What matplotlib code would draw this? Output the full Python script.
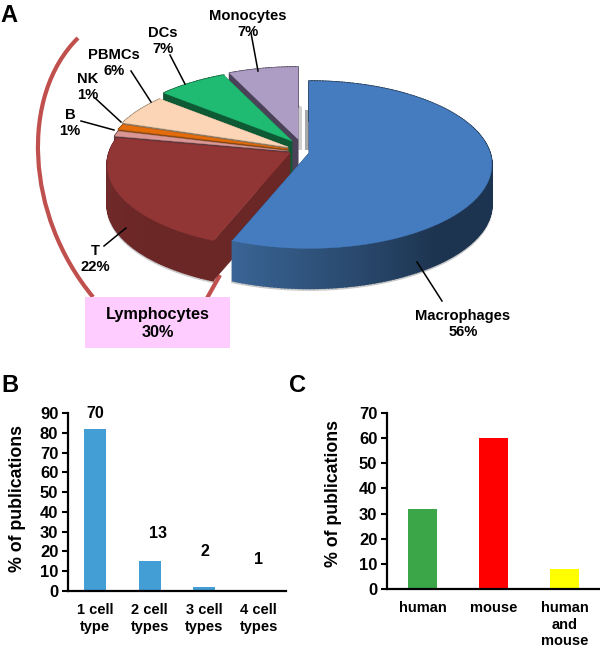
import matplotlib
matplotlib.use("Agg")
import matplotlib.pyplot as plt
from matplotlib.patches import PathPatch, Rectangle
from matplotlib.path import Path
from matplotlib.colors import to_rgb
import numpy as np

plt.rcParams['font.family'] = ['Liberation Sans', 'DejaVu Sans']
plt.rcParams['font.weight'] = 'bold'

# panel A
pie_labels = ["Macrophages", "T", "B", "NK", "PBMCs", "DCs", "Monocytes"]
pie_values = [56, 22, 1, 1, 6, 7, 7]
lymphocytes = 30

# panel B
n_types = ["1 cell\ntype", "2 cell\ntypes", "3 cell\ntypes", "4 cell\ntypes"]
n_types_pct = [82, 15, 2, 0.6]
n_types_count = ["70", "13", "2", "1"]

# panel C
species = ["human", "mouse", "human\nand\nmouse"]
species_pct = [32, 60, 8]

W, H = 600, 650
R, RY, K, DEPTH = 181, 82, 0.14, 40

top_colors = ["#457CC0", "#913535", "#D99694", "#E46C0A", "#FBD5B5", "#1FBB72", "#AD9DC4"]
side_light = ["#3A6596", "#732B2B", "#5C3A3E", "#8A4A14", "#8C7A66", "#0E5A35", "#4B4158"]
side_dark = ["#1D3450", "#6B2626", "#5C3A3E", "#8A4A14", "#8C7A66", "#0E5A35", "#4B4158"]
apex = [(309, 153), (290, 153), (288, 151), (288, 149), (288, 147), (292, 141), (298, 139)]


def proj(th, cx, cy):
    u, v = np.cos(th), np.sin(th)
    s = 1 / (1 + K * v)
    return cx + R * u * s, cy - RY * v * s


def mix(c1, c2, t):
    a, b = np.array(to_rgb(c1)), np.array(to_rgb(c2))
    return tuple(a + (b - a) * t)


def draw_slice(ax, th1, th2, cx, cy, top, light, dark):
    # th1 > th2, clockwise
    ths = np.radians(np.linspace(th1, th2, max(int(abs(th1 - th2)) + 2, 3)))
    xs, ys = proj(ths, cx, cy)
    # soft edge under the wall
    ax.plot(xs, ys + DEPTH + 1.5, color="#C8C8C8", lw=1.5, zorder=0.5)
    # radial faces
    for x, y in [(xs[0], ys[0]), (xs[-1], ys[-1])]:
        ax.fill([cx, x, x, cx], [cy, y, y + DEPTH, cy + DEPTH], color=dark, lw=0.3)
    # outer wall, gets lighter towards the end of the slice
    for i in range(len(ths) - 1):
        t = np.clip((np.degrees(ths[i]) - th2) / 60, 0, 1)
        ax.fill([xs[i], xs[i + 1], xs[i + 1], xs[i]],
                [ys[i], ys[i + 1], ys[i + 1] + DEPTH, ys[i] + DEPTH],
                color=mix(light, dark, t), lw=1.2)
    ax.fill(np.r_[cx, xs], np.r_[cy, ys], color=top, lw=0.3)


fig = plt.figure(figsize=(W / 100, H / 100), dpi=100)


def axes_px(x0, y0, x1, y1):
    return fig.add_axes([x0 / W, 1 - y1 / H, (x1 - x0) / W, (y1 - y0) / H])


def style_bar_axes(ax, labels):
    for s in ['top', 'right']:
        ax.spines[s].set_visible(False)
    for s in ['left', 'bottom']:
        ax.spines[s].set_linewidth(1.6)
    ax.tick_params(axis='y', width=1.5, length=4, labelsize=12, pad=3)
    ax.tick_params(axis='x', length=0, labelsize=10.5, pad=9)
    ax.set_xticks(range(len(labels)))
    ax.set_xticklabels(labels, linespacing=1.2)
    ax.set_xlim(-0.5, len(labels) - 0.5)
    ax.set_ylabel("% of publications", fontsize=12.8, fontweight='bold', va='center')


# B
axb = axes_px(68, 413, 286, 591)
axb.bar(range(4), n_types_pct, width=0.4, color="#439ED5")
axb.set_ylim(0, 90)
axb.set_yticks(range(0, 91, 10))
style_bar_axes(axb, n_types)
axb.yaxis.set_label_coords(-50 / 218, 0.52)
for x, y, s in zip([0, 1.16, 2.02, 3.0], [90, 29.3, 20.2, 15.7], n_types_count):
    axb.text(x, y, s, ha='center', va='center', fontsize=11.5)

# C
axc = axes_px(387, 413, 600, 589)
axc.bar(range(3), species_pct, width=0.41, color=["#3AA648", "#FF0000", "#FFFF00"])
axc.set_ylim(0, 70)
axc.set_yticks(range(0, 71, 10))
style_bar_axes(axc, species)
axc.yaxis.set_label_coords(-53 / 213, 0.545)

# overlay in pixel coordinates for panel A and letters
ov = fig.add_axes([0, 0, 1, 1], facecolor='none')
ov.set_xlim(0, W)
ov.set_ylim(H, 0)
ov.axis('off')

# lymphocytes bracket
brace = Path([(78, 38), (20, 95), (25, 215), (93, 297)],
             [Path.MOVETO, Path.CURVE4, Path.CURVE4, Path.CURVE4])
ov.add_patch(PathPatch(brace, fill=False, ec="#C0504D", lw=3, capstyle='butt'))
ov.plot([220, 206], [275, 300], color="#C0504D", lw=3, solid_capstyle='butt', zorder=0.9)

# slices, back to front
edges = 90 - np.r_[0, np.cumsum(pie_values)] * 3.6
# shadow next to the pulled out slices
ov.fill([298, 302, 302, 298], [105, 107, 150, 150], color="#CFCFCF", lw=0)
ov.fill([305, 309, 309, 305], [110, 110, 150, 150], color="#A9A9A9", lw=0)
for i in range(len(pie_values) - 1, -1, -1):
    cx, cy = apex[i]
    draw_slice(ov, edges[i], edges[i + 1], cx, cy, top_colors[i], side_light[i], side_dark[i])

# pie labels and leader lines
label_pos = [(463, 324), (95, 259), (70, 123), (88, 87), (114, 63), (163, 41), (248, 24)]
leaders = [((417, 262), (442, 301)), ((104, 246), (126, 228)), ((81, 121), (114, 130)),
           ((95, 98), (121, 122)), ((131, 71), (151, 102)), ((170, 55), (185, 84)),
           ((251, 33), (258, 71))]
for (x, y), name, val, (p0, p1) in zip(label_pos, pie_labels, pie_values, leaders):
    ov.plot([p0[0], p1[0]], [p0[1], p1[1]], color='black', lw=1.1)
    ov.text(x, y, "%s\n%d%%" % (name, val), ha='center', va='center', fontsize=10.6,
            linespacing=1.15)

ov.add_patch(Rectangle((85, 297), 145, 51, color="#FFCCFF", lw=0))
ov.text(158, 323.5, "Lymphocytes\n%d%%" % lymphocytes, ha='center', va='center', fontsize=11.7,
        linespacing=1.25)

for x, y, s in [(9, 15, "A"), (10, 385, "B"), (298, 385, "C")]:
    ov.text(x, y, s, ha='center', va='center', fontsize=17)

fig.savefig("out.png", dpi=100)
